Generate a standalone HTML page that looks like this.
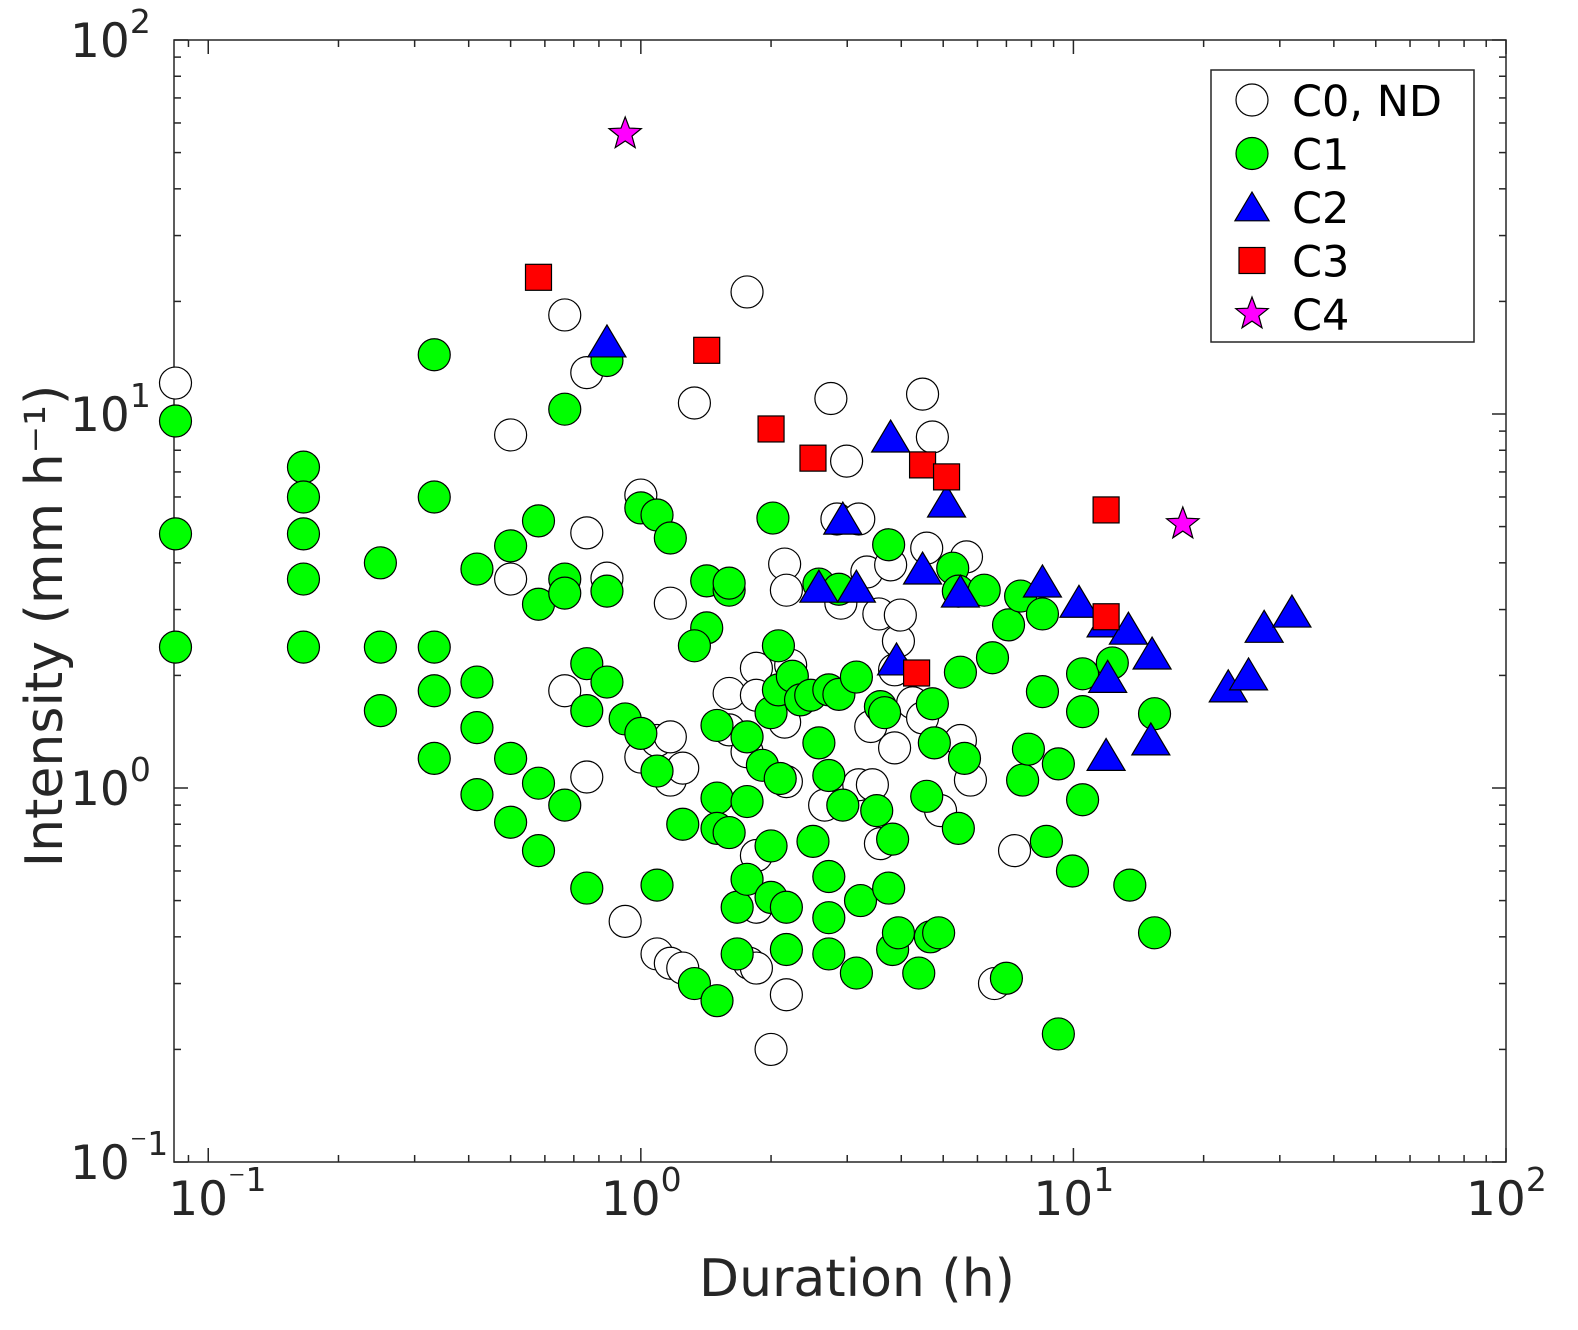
<!DOCTYPE html>
<html><head><meta charset="utf-8"><style>
html,body{margin:0;padding:0;background:#fff;}
svg{display:block;font-family:"DejaVu Sans","Liberation Sans",sans-serif;}
</style></head><body>
<svg id="chart" width="1578" height="1330" viewBox="0 0 1578 1330"></svg>
<script>
const c0x=[.084,.667,.75,.5,1.33,1.76,2.75,2.99,4.48,4.72,1.0,.75,1.17,.835,.5,.667,.75,.92,1.0,1.09,1.17,1.25,1.17,1.09,1.17,1.25,1.6,1.6,1.76,1.85,1.85,1.85,1.85,1.78,1.85,2.17,2.0,2.15,2.17,2.22,2.15,2.17,2.66,2.84,3.19,2.9,3.33,3.4,3.19,3.43,3.55,3.78,3.94,3.98,3.86,3.86,3.58,4.25,4.48,4.58,4.93,5.48,5.66,5.78,7.31,6.57];
const c0y=[12.1,18.4,12.9,8.79,10.7,21.2,11.0,7.48,11.3,8.68,6.07,4.81,3.12,3.64,3.62,1.82,1.07,.44,1.21,1.34,1.05,1.13,1.37,.36,.34,.33,1.79,1.43,1.25,2.09,1.77,.66,.48,.34,.33,.28,.20,3.97,3.38,2.13,1.50,1.04,.90,5.24,5.24,3.12,3.78,1.46,1.02,1.02,2.92,3.95,2.47,2.90,2.07,1.28,.71,1.69,1.54,4.38,.87,1.34,4.15,1.05,.68,.30];
const c1x=[.084,.084,.084,.166,.166,.166,.166,.166,.25,.25,.25,.333,.333,.333,.333,.333,.418,.418,.418,.418,.5,.5,.5,.58,.58,.58,.58,.667,.667,.667,.667,.75,.75,.75,.835,.835,.835,.92,1.0,1.0,1.09,1.09,1.09,1.17,1.25,1.33,1.42,1.42,1.33,1.5,1.5,1.5,1.5,1.6,1.6,1.6,1.67,1.67,1.76,1.76,1.76,1.91,2.02,2.08,2.0,2.0,2.0,2.1,2.08,2.17,2.17,2.24,2.34,2.47,2.58,2.5,2.58,2.72,2.72,2.72,2.72,2.72,2.87,2.87,2.93,3.15,3.15,3.22,3.51,3.58,3.66,3.74,3.74,3.82,3.82,3.94,4.39,4.58,4.67,4.72,4.77,4.88,5.26,5.42,5.48,5.42,5.6,6.22,6.5,7.0,7.08,7.55,7.63,7.87,8.48,8.48,8.66,9.23,9.23,9.95,10.5,10.5,10.5,12.3,13.5,15.4,15.4];
const c1y=[9.58,4.78,2.38,7.21,6.0,4.78,3.62,2.38,4.0,2.38,1.61,14.4,6.0,2.38,1.82,1.20,3.85,1.92,1.45,.96,4.44,1.20,.81,5.18,3.10,1.03,.68,10.3,3.62,3.32,.90,2.15,1.61,.54,13.9,3.36,1.92,1.53,5.61,1.40,5.37,1.11,.55,4.66,.80,.30,3.58,2.68,2.40,.27,1.47,.94,.78,3.38,3.53,.76,.48,.36,.57,.92,1.37,1.15,5.27,2.40,1.59,.70,.51,1.06,1.83,.48,.37,1.99,1.72,1.77,1.32,.72,3.51,1.08,1.83,.58,.45,.36,3.40,1.78,.90,1.98,.32,.50,.87,1.65,1.59,4.47,.54,.73,.37,.41,.32,.95,.40,1.68,1.32,.41,3.87,3.36,2.04,.78,1.20,3.38,2.23,.31,2.73,3.26,1.05,1.27,1.81,2.92,.72,1.16,.22,.60,2.02,1.60,.93,2.16,.55,1.58,.41];
const c2x=[.835,3.78,2.93,5.09,2.58,3.15,4.48,5.48,8.48,10.3,11.9,13.4,15.2,12.0,22.8,25.4,27.6,32.0,11.9,15.1,3.90];
const c2y=[15.3,8.52,5.14,5.71,3.38,3.38,3.78,3.28,3.49,3.08,2.73,2.61,2.24,1.94,1.83,1.97,2.64,2.90,1.20,1.32,2.16];
const c3x=[.58,1.42,2.0,2.5,4.48,5.09,4.34,11.9,11.9];
const c3y=[23.2,14.8,9.12,7.62,7.31,6.79,2.03,5.54,2.87];
const c4x=[.92,17.9];
const c4y=[56.1,5.08];
const xTickExp=[-1,0,1,2];
const yTickExp=[-1,0,1,2];

const NS='http://www.w3.org/2000/svg';
const svg=document.getElementById('chart');
const L=174,R=1506,T=40,B=1162;
const xmin=Math.log10(1/12),xmax=2,ymin=-1,ymax=2;
const sx=v=>L+(Math.log10(v)-xmin)/(xmax-xmin)*(R-L);
const sy=v=>B-(Math.log10(v)-ymin)/(ymax-ymin)*(B-T);
function el(tag,attrs,parent){const e=document.createElementNS(NS,tag);for(const k in attrs)e.setAttribute(k,attrs[k]);(parent||svg).appendChild(e);return e;}

const ax=el('g',{});


el('rect',{x:L,y:T,width:R-L,height:B-T,fill:'#fff',stroke:'#262626','stroke-width':1.5},ax);
for(let e=-2;e<=2;e++){for(let m=1;m<10;m++){const v=m*Math.pow(10,e);
  if(v>=1/12-1e-9&&v<=100+1e-9){const x=sx(v),len=m==1?14:7;
   el('line',{x1:x,x2:x,y1:B,y2:B-len,stroke:'#262626','stroke-width':1.5},ax);
   el('line',{x1:x,x2:x,y1:T,y2:T+len,stroke:'#262626','stroke-width':1.5},ax);}
  if(v>=0.1-1e-9&&v<=100+1e-9){const y=sy(v),len=m==1?14:7;
   el('line',{x1:L,x2:L+len,y1:y,y2:y,stroke:'#262626','stroke-width':1.5},ax);
   el('line',{x1:R,x2:R-len,y1:y,y2:y,stroke:'#262626','stroke-width':1.5},ax);}
}}
function tickLabel(x,y,exp,name){
  const t=el('text',{x:x,y:y,'font-size':47,fill:'#262626'});
  
  
  t.textContent='10';
  const s=el('tspan',{dy:-24,'font-size':33},t);s.textContent=String(exp).replace('-','\u207B');
}
xTickExp.forEach(e=>{tickLabel(sx(Math.pow(10,e))-40,1215,e,'x-tick-label');});
yTickExp.forEach(e=>{tickLabel(70,sy(Math.pow(10,e))+17,e,'y-tick-label');});
const xl=el('text',{x:857,y:1296,'font-size':52,fill:'#262626','text-anchor':'middle'});


xl.textContent='Duration (h)';
const yl=el('text',{x:0,y:0,'font-size':52,fill:'#262626','text-anchor':'middle',transform:'translate(62,626) rotate(-90)'});


yl.textContent='Intensity (mm h\u207B\u00B9)';

function circle(g,x,y,fill,r){el('circle',{cx:x,cy:y,r:r||16,fill:fill,stroke:'#000','stroke-width':1.2},g);}
function tri(g,x,y,s){s=s||20;el('polygon',{points:`${x},${y-s} ${x-s*0.95},${y+s*0.6} ${x+s*0.95},${y+s*0.6}`,fill:'#0000ff',stroke:'#000','stroke-width':1.2},g);}
function sq(g,x,y,s){s=s||13;el('rect',{x:x-s,y:y-s,width:2*s,height:2*s,fill:'#ff0000',stroke:'#000','stroke-width':1.2},g);}
function star(g,x,y,s){s=s||17;let p=[];for(let i=0;i<10;i++){const r=i%2?s*0.42:s;const a=-Math.PI/2+i*Math.PI/5;p.push((x+r*Math.cos(a)).toFixed(1)+','+(y+r*Math.sin(a)).toFixed(1));}
  el('polygon',{points:p.join(' '),fill:'#ff00ff',stroke:'#000','stroke-width':1.2},g);}

const g0=el('g',{});
c0x.forEach((v,i)=>circle(g0,sx(v),sy(c0y[i]),'#fff'));
const g1=el('g',{});
c1x.forEach((v,i)=>circle(g1,sx(v),sy(c1y[i]),'#00ff00'));
const g2=el('g',{});
c2x.forEach((v,i)=>tri(g2,sx(v),sy(c2y[i])));
const g3=el('g',{});
c3x.forEach((v,i)=>sq(g3,sx(v),sy(c3y[i])));
const g4=el('g',{});
c4x.forEach((v,i)=>star(g4,sx(v),sy(c4y[i])));

const lg=el('g',{});
el('rect',{x:1211,y:70,width:263,height:272,fill:'#fff',stroke:'#262626','stroke-width':1.5},lg);
const labs=['C0, ND','C1','C2','C3','C4'];
labs.forEach((lab,i)=>{const y=100+i*53.5;
  const e=el('g',{},lg);
  if(i==0)circle(e,1252,y,'#fff',16);if(i==1)circle(e,1252,y,'#00ff00',16);
  if(i==2)tri(e,1252,y+3,18);if(i==3)sq(e,1252,y,13);if(i==4)star(e,1252,y,17);
  const t=el('text',{x:1292,y:y+16,'font-size':43,fill:'#000'},e);t.textContent=lab;});
</script>
</body></html>
